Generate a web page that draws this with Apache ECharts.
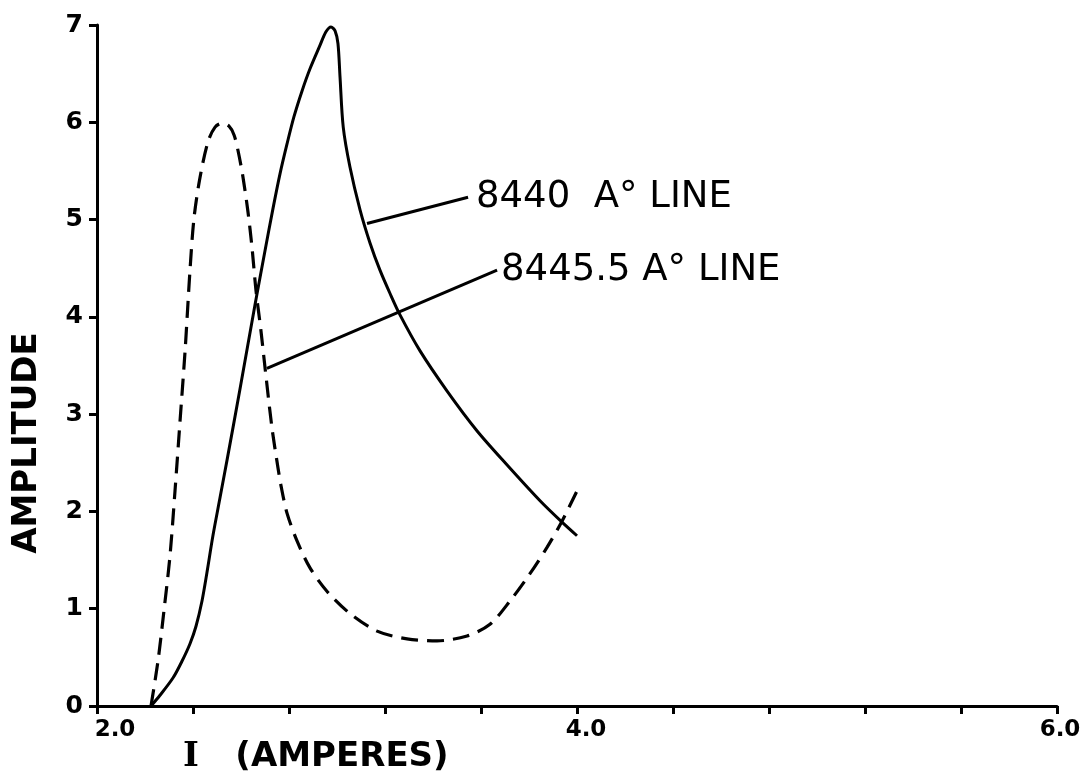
<!DOCTYPE html>
<html>
<head>
<meta charset="utf-8">
<title>Amplitude vs current</title>
<script src="https://cdn.jsdelivr.net/npm/echarts@6/dist/echarts.min.js"></script>
<style>
  html, body { margin: 0; padding: 0; background: #ffffff; }
  #chart { width: 1084px; height: 778px; }
</style>
</head>
<body>
<div id="chart"></div>
<script>
// Current I (amperes) and amplitude for the 8440 A° line (solid curve)
const line8440I = [2.225, 2.2625, 2.317, 2.354, 2.3875, 2.4125, 2.4375, 2.458, 2.483, 2.5125, 2.542, 2.596, 2.658, 2.7, 2.733, 2.7625, 2.792, 2.821, 2.854, 2.8875, 2.929, 2.954, 2.975, 2.992, 3.004, 3.0125, 3.026, 3.054, 3.096, 3.1375, 3.179, 3.221, 3.2625, 3.346, 3.458, 3.583, 3.708, 3.846, 3.9375, 4.0];
const line8440A = [0.0, 0.11, 0.29, 0.46, 0.64, 0.82, 1.08, 1.37, 1.75, 2.14, 2.53, 3.26, 4.12, 4.68, 5.11, 5.47, 5.78, 6.06, 6.32, 6.55, 6.79, 6.93, 6.98, 6.94, 6.81, 6.47, 5.95, 5.54, 5.10, 4.76, 4.48, 4.24, 4.02, 3.65, 3.24, 2.83, 2.48, 2.11, 1.89, 1.75];

// Current I (amperes) and amplitude for the 8445.5 A° line (dashed curve)
const line84455I = [2.225, 2.254, 2.279, 2.304, 2.325, 2.346, 2.367, 2.3875, 2.404, 2.429, 2.4625, 2.492, 2.521, 2.55, 2.571, 2.5875, 2.608, 2.629, 2.646, 2.6625, 2.683, 2.7, 2.729, 2.754, 2.767, 2.792, 2.833, 2.8875, 2.958, 3.054, 3.167, 3.292, 3.417, 3.542, 3.6375, 3.721, 3.804, 3.875, 3.9375, 4.0];
const line84455A = [0.0, 0.46, 0.98, 1.54, 2.21, 2.93, 3.65, 4.48, 5.01, 5.43, 5.80, 5.95, 5.99, 5.96, 5.87, 5.71, 5.44, 5.08, 4.71, 4.27, 3.86, 3.48, 2.86, 2.45, 2.26, 1.98, 1.70, 1.42, 1.18, 0.95, 0.77, 0.69, 0.67, 0.72, 0.84, 1.08, 1.36, 1.63, 1.90, 2.21];

// Leader lines from each curve to its caption (data units)
const leader8440I = [3.125, 3.546];
const leader8440A = [4.96, 5.23];
const leader84455I = [2.708, 3.667];
const leader84455A = [3.47, 4.48];

const captions = ['8440  A° LINE', '8445.5 A° LINE'];

// Axis ranges and tick labels
const xMin = 2.0, xMax = 6.0, xStep = 0.4;
const xTickLabels = ['2.0', '4.0', '6.0'];
const yMin = 0, yMax = 7, yStep = 1;
const yTitle = 'AMPLITUDE';
const xTitleSymbol = 'I';
const xTitleUnit = '(AMPERES)';

const zip = (xs, ys) => xs.map((x, i) => [x, ys[i]]);

const ink = '#000000';
const chart = echarts.init(document.getElementById('chart'), null, { renderer: 'canvas' });

const tickFont = { fontFamily: 'DejaVu Sans', fontWeight: 'bold', fontSize: 23, color: ink };

const option = {
  animation: false,
  backgroundColor: '#ffffff',
  grid: { left: 97, right: 27, top: 25, bottom: 72, containLabel: false },
  xAxis: {
    type: 'value',
    min: xMin,
    max: xMax,
    interval: xStep,
    axisLine: { lineStyle: { color: ink, width: 3 } },
    axisTick: { show: true, inside: false, length: 8, lineStyle: { color: ink, width: 3 } },
    splitLine: { show: false },
    axisLabel: {
      margin: 13,
      formatter: function (v) {
        const k = Math.round(v * 10);
        if (k % 20 !== 0) return '';
        const s = (k / 10).toFixed(1);
        const idx = xTickLabels.indexOf(s);
        return idx < 0 ? '' : '{t' + idx + '|' + s + '}';
      },
      rich: {
        t0: Object.assign({ padding: [0, 0, 0, 36] }, tickFont),
        t1: Object.assign({ padding: [0, 0, 0, 18] }, tickFont),
        t2: Object.assign({ padding: [0, 0, 0, 6] }, tickFont)
      }
    }
  },
  yAxis: {
    type: 'value',
    min: yMin,
    max: yMax,
    interval: yStep,
    axisLine: { show: true, lineStyle: { color: ink, width: 3 } },
    axisTick: { show: true, inside: false, length: 8, lineStyle: { color: ink, width: 3 } },
    splitLine: { show: false },
    axisLabel: Object.assign({ margin: 14 }, tickFont, { fontSize: 25 })
  },
  graphic: [
    {
      type: 'text',
      x: 27, y: 443,
      rotation: Math.PI / 2,
      style: {
        text: yTitle,
        fontFamily: 'DejaVu Sans', fontWeight: 'bold', fontSize: 34,
        fill: ink, align: 'center', verticalAlign: 'middle'
      }
    },
    {
      type: 'text',
      x: 191, y: 757,
      style: {
        text: xTitleSymbol,
        fontFamily: 'DejaVu Serif', fontWeight: 'bold', fontSize: 34,
        fill: ink, align: 'center', verticalAlign: 'middle'
      }
    },
    {
      type: 'text',
      x: 342, y: 757,
      style: {
        text: xTitleUnit,
        fontFamily: 'DejaVu Sans', fontWeight: 'bold', fontSize: 34,
        fill: ink, align: 'center', verticalAlign: 'middle'
      }
    }
  ],
  series: [
    {
      name: '8440',
      type: 'line',
      data: zip(line8440I, line8440A),
      smooth: 0.3,
      showSymbol: false,
      lineStyle: { color: ink, width: 3 },
      z: 3
    },
    {
      name: '8445.5',
      type: 'line',
      data: zip(line84455I, line84455A),
      smooth: 0.3,
      showSymbol: false,
      lineStyle: { color: ink, width: 3.2, type: [17, 9] },
      z: 3
    },
    {
      name: 'leader 8440',
      type: 'line',
      data: zip(leader8440I, leader8440A),
      showSymbol: false,
      lineStyle: { color: ink, width: 3 },
      endLabel: {
        show: true,
        formatter: captions[0],
        distance: 8,
        fontFamily: 'DejaVu Sans',
        fontSize: 37,
        color: ink
      },
      z: 4
    },
    {
      name: 'leader 8445.5',
      type: 'line',
      data: zip(leader84455I, leader84455A),
      showSymbol: false,
      lineStyle: { color: ink, width: 3 },
      endLabel: {
        show: true,
        formatter: captions[1],
        distance: 4,
        fontFamily: 'DejaVu Sans',
        fontSize: 37,
        color: ink
      },
      z: 4
    }
  ]
};

chart.setOption(option);
</script>
</body>
</html>
